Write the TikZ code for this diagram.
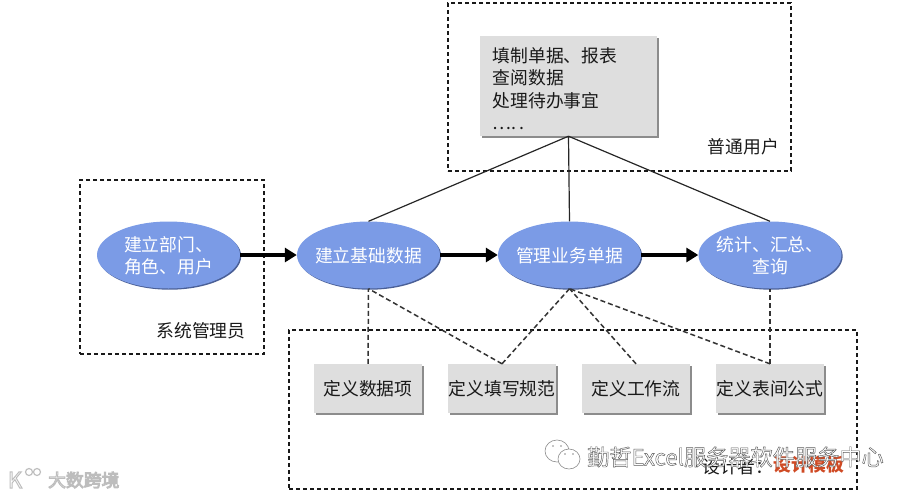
\documentclass[tikz,border=0pt]{standalone}
\usepackage{fontspec}
\setmainfont{Noto Sans CJK SC}
\usetikzlibrary{arrows.meta,shapes.geometric,shadows}
\definecolor{blobblue}{HTML}{7B9BE6}
\definecolor{blobedge}{HTML}{4A5F96}
\definecolor{boxgray}{HTML}{DEDEDE}
\definecolor{boxedge}{HTML}{8C8C8C}
\definecolor{templatered}{HTML}{CF4A24}
\newcommand{\outlined}[2]{\color{white}\special{pdf:code 2 Tr #1 w #2 RG 1 1 1 rg}}
\newcommand{\plainfill}{\special{pdf:code 0 Tr}}
\newcommand{\inblob}[1]{\makebox[0pt]{\smash{\raisebox{-.42em}{\begin{tabular}{@{}c@{}}#1\end{tabular}}}}}
\tikzset{
  x=1pt,y=-1pt,
  txt/.style={font=\fontsize{17.8}{22.3}\selectfont,inner sep=0pt,text=black!90},
  group/.style={draw=black!90,line width=1.4pt,dash pattern=on 4pt off 3pt,inner sep=0pt},
  blob/.style={ellipse,fill=blobblue,minimum width=143pt,minimum height=67pt,inner sep=0pt,
    font=\fontsize{17.8}{22}\selectfont,text=white,
    drop shadow={shadow xshift=1.2pt,shadow yshift=-1.2pt,fill=blobedge,opacity=1}},
  card/.style={rectangle,fill=boxgray,inner sep=0pt,
    font=\fontsize{17.8}{22.3}\selectfont,text=black!90,
    drop shadow={shadow xshift=2pt,shadow yshift=-2pt,fill=boxedge,opacity=1}},
  task/.style={card,minimum width=108pt,minimum height=49pt},
  flow/.style={line width=3.6pt,-{Triangle[length=12pt,width=14pt]},black},
  solidlink/.style={line width=1.2pt,black!85},
  dashlink/.style={line width=1.5pt,black!80,dash pattern=on 5pt off 3pt},
  bubble/.style={draw=black!45,line width=.6pt,fill=white},
  eye/.style={fill=black!45},
}
\begin{document}
\begin{tikzpicture}
\useasboundingbox (0,0) rectangle (911,496);
% groups
\node[group,minimum width=343pt,minimum height=168pt] (usergroup) at (619.5,87) {};
\node[group,minimum width=184pt,minimum height=174pt] (admingroup) at (172,267) {};
\node[group,minimum width=568pt,minimum height=159pt] (designgroup) at (573,409.5) {};
% card
\node[card,minimum width=177pt,minimum height=100pt] (usercard) at (568.5,86) {};
\node[txt,anchor=north west,align=left] (usertext) at (492.5,47.5)
  {填制单据、报表\\查阅数据\\处理待办事宜\\….\,.};
% flow nodes
\node[blob] (dept) at (168.5,255) {\inblob{建立部门、\\角色、用户}};
\node[blob] (base) at (368.5,255) {\inblob{建立基础数据}};
\node[blob] (bill) at (569.5,255) {\inblob{管理业务单据}};
\node[blob] (stat) at (770,255) {\inblob{统计、汇总、\\查询}};
% tasks
\node[task] (item) at (368,388.5) {定义数据项};
\node[task] (rule) at (502,388.5) {定义填写规范};
\node[task] (work) at (636,388.5) {定义工作流};
\node[task] (form) at (770,388.5) {定义表间公式};
% connectors
\draw[flow] (dept.east) -- (base.west);
\draw[flow] (base.east) -- (bill.west);
\draw[flow] (bill.east) -- (stat.west);
\draw[solidlink] (usercard.south) -- (base.north);
\draw[solidlink] (usercard.south) -- (bill.north);
\draw[solidlink] (usercard.south) -- (stat.north);
\draw[dashlink] (item.north) -- (base.south);
\draw[dashlink] (rule.north) -- (base.south);
\draw[dashlink] (rule.north) -- (bill.south);
\draw[dashlink] (work.north) -- (bill.south);
\draw[dashlink] (form.north) -- (bill.south);
\draw[dashlink] (form.north) -- (stat.south);
% labels
\node[txt] (userlabel) at (743.5,147) {普通用户};
\node[txt] (adminlabel) at (201,331) {系统管理员};
\node[txt,anchor=west] (designer) at (702,467) {设计者：};
\node[txt,anchor=west,text=templatered,font=\fontsize{17.8}{22}\selectfont\bfseries] (template) at (773,465) {设计模板};
% watermarks
\draw[bubble] (557,451) ellipse (12pt and 11pt);
\draw[bubble] (569,459) ellipse (11pt and 10pt);
\fill[eye] (553,446) circle (.8pt) (561,446) circle (.8pt) (565,454) circle (.8pt) (573,454) circle (.8pt);
\node[inner sep=0pt,anchor=west,font=\fontsize{22.2}{26}\selectfont] (mark) at (587,457)
  {\outlined{0.45}{0.35 0.35 0.35}勤哲Excel服务器软件服务中心\plainfill};
\node[inner sep=0pt,anchor=west,font=\fontsize{17.8}{22}\selectfont] (brand) at (48,480)
  {\outlined{1}{0.74 0.74 0.74}大数跨境\plainfill};
\node[inner sep=0pt,font=\fontsize{22}{24}\selectfont] (logo) at (15,480)
  {\outlined{1}{0.74 0.74 0.74}K\plainfill};
\draw[draw=black!25,line width=1.2pt] (29,472) circle (3.5pt) (37,472) circle (3.5pt);
\end{tikzpicture}
\end{document}
